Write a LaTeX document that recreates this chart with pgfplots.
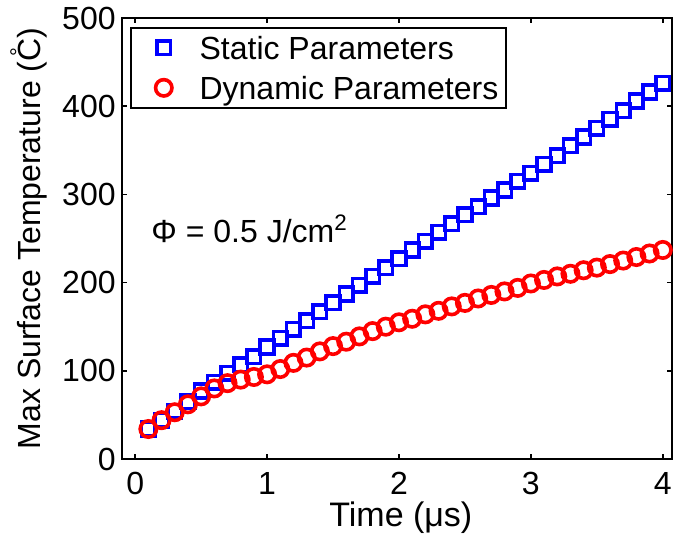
\documentclass[border=0pt]{standalone}
\usepackage{fontspec}
\setmainfont{Liberation Sans}
\usepackage{pgfplots}
\pgfplotsset{compat=1.18}

% Maximum surface temperature against time
\pgfplotstableread{
t     T
0.1   34
0.2   44
0.3   54
0.4   65
0.5   77
0.6   87
0.7   97
0.8   107
0.9   116
1.0   127
1.1   137
1.2   147
1.3   157
1.4   167
1.5   177
1.6   187
1.7   197
1.8   207
1.9   217
2.0   227
2.1   237
2.2   247
2.3   257
2.4   267
2.5   277
2.6   286
2.7   296
2.8   305
2.9   315
3.0   324
3.1   334
3.2   344
3.3   355
3.4   365
3.5   375
3.6   385
3.7   395
3.8   406
3.9   416
4.0   426
}\staticdata

\pgfplotstableread{
t     T
0.1   34
0.2   44
0.3   53
0.4   62
0.5   71
0.6   80
0.7   86
0.8   90
0.9   93
1.0   96
1.1   102
1.2   109
1.3   115
1.4   122
1.5   128
1.6   133
1.7   139
1.8   145
1.9   150
2.0   155
2.1   159
2.2   164
2.3   168
2.4   173
2.5   177
2.6   182
2.7   186
2.8   190
2.9   194
3.0   199
3.1   203
3.2   207
3.3   210
3.4   214
3.5   217
3.6   221
3.7   225
3.8   229
3.9   233
4.0   237
}\dynamicdata

% degree ring set above the C
\newcommand{\degC}{\rlap{\kern2.5pt\raisebox{7.5pt}{\fontsize{11}{11}\selectfont °}}C}

\begin{document}
\begin{tikzpicture}
\begin{axis}[
  scale only axis,
  width=275pt, height=220.5pt,
  at={(0,0)}, anchor=south west,
  xmin=-0.1, xmax=4.07,
  ymin=0, ymax=500,
  xtick={0,1,2,3,4},
  ytick={0,100,200,300,400,500},
  tick align=inside,
  major tick length=2.5pt,
  tick style={black, line width=0.8pt},
  axis line style={black, line width=1pt},
  font=\fontsize{16}{19}\selectfont,
  /pgf/number format/assume math mode=true,
  xticklabel style={anchor=north, inner sep=0pt, yshift=-6.5pt},
  yticklabel style={anchor=east, inner sep=0pt, xshift=-3pt},
  xlabel={Time (μs)},
  ylabel={Max Surface Temperature (\degC)},
  xlabel style={at={(axis description cs:0.507,0)}, anchor=base, inner sep=0pt,
    yshift=-34pt, font=\fontsize{17}{20}\selectfont},
  ylabel style={at={(axis description cs:-0.135,0.5)}, anchor=south, inner sep=0pt},
  legend style={
    at={(rel axis cs:0.0145,0.98)}, anchor=north west,
    draw=black, line width=1pt,
    inner xsep=2pt, inner ysep=0pt,
    font=\fontsize{16}{19}\selectfont,
    nodes={text height=14pt, text depth=2pt, inner sep=2pt},
    cells={anchor=west},
  },
  legend image code/.code={
    \draw[#1] plot coordinates {(0pt,0pt)};
    \path (-13.5pt,0pt) (15pt,0pt);
  },
]
\addplot[only marks, mark=square, mark size=3.4pt, color=blue, line width=1.8pt]
  table[x=t, y=T] {\staticdata};
\addlegendentry{Static Parameters}
\addplot[only marks, mark=o, mark size=4.1pt, color=red, line width=1.8pt]
  table[x=t, y=T] {\dynamicdata};
\addlegendentry{Dynamic Parameters}

\node[anchor=base west, inner sep=0pt, font=\fontsize{16}{19}\selectfont]
  at (axis cs:0.12,245) {Φ = 0.5 J/cm\textsuperscript{2}};
\end{axis}
\pgfresetboundingbox
\path[use as bounding box] (-61pt,-40pt) rectangle (275.5pt,229.5pt);
\end{tikzpicture}
\end{document}
